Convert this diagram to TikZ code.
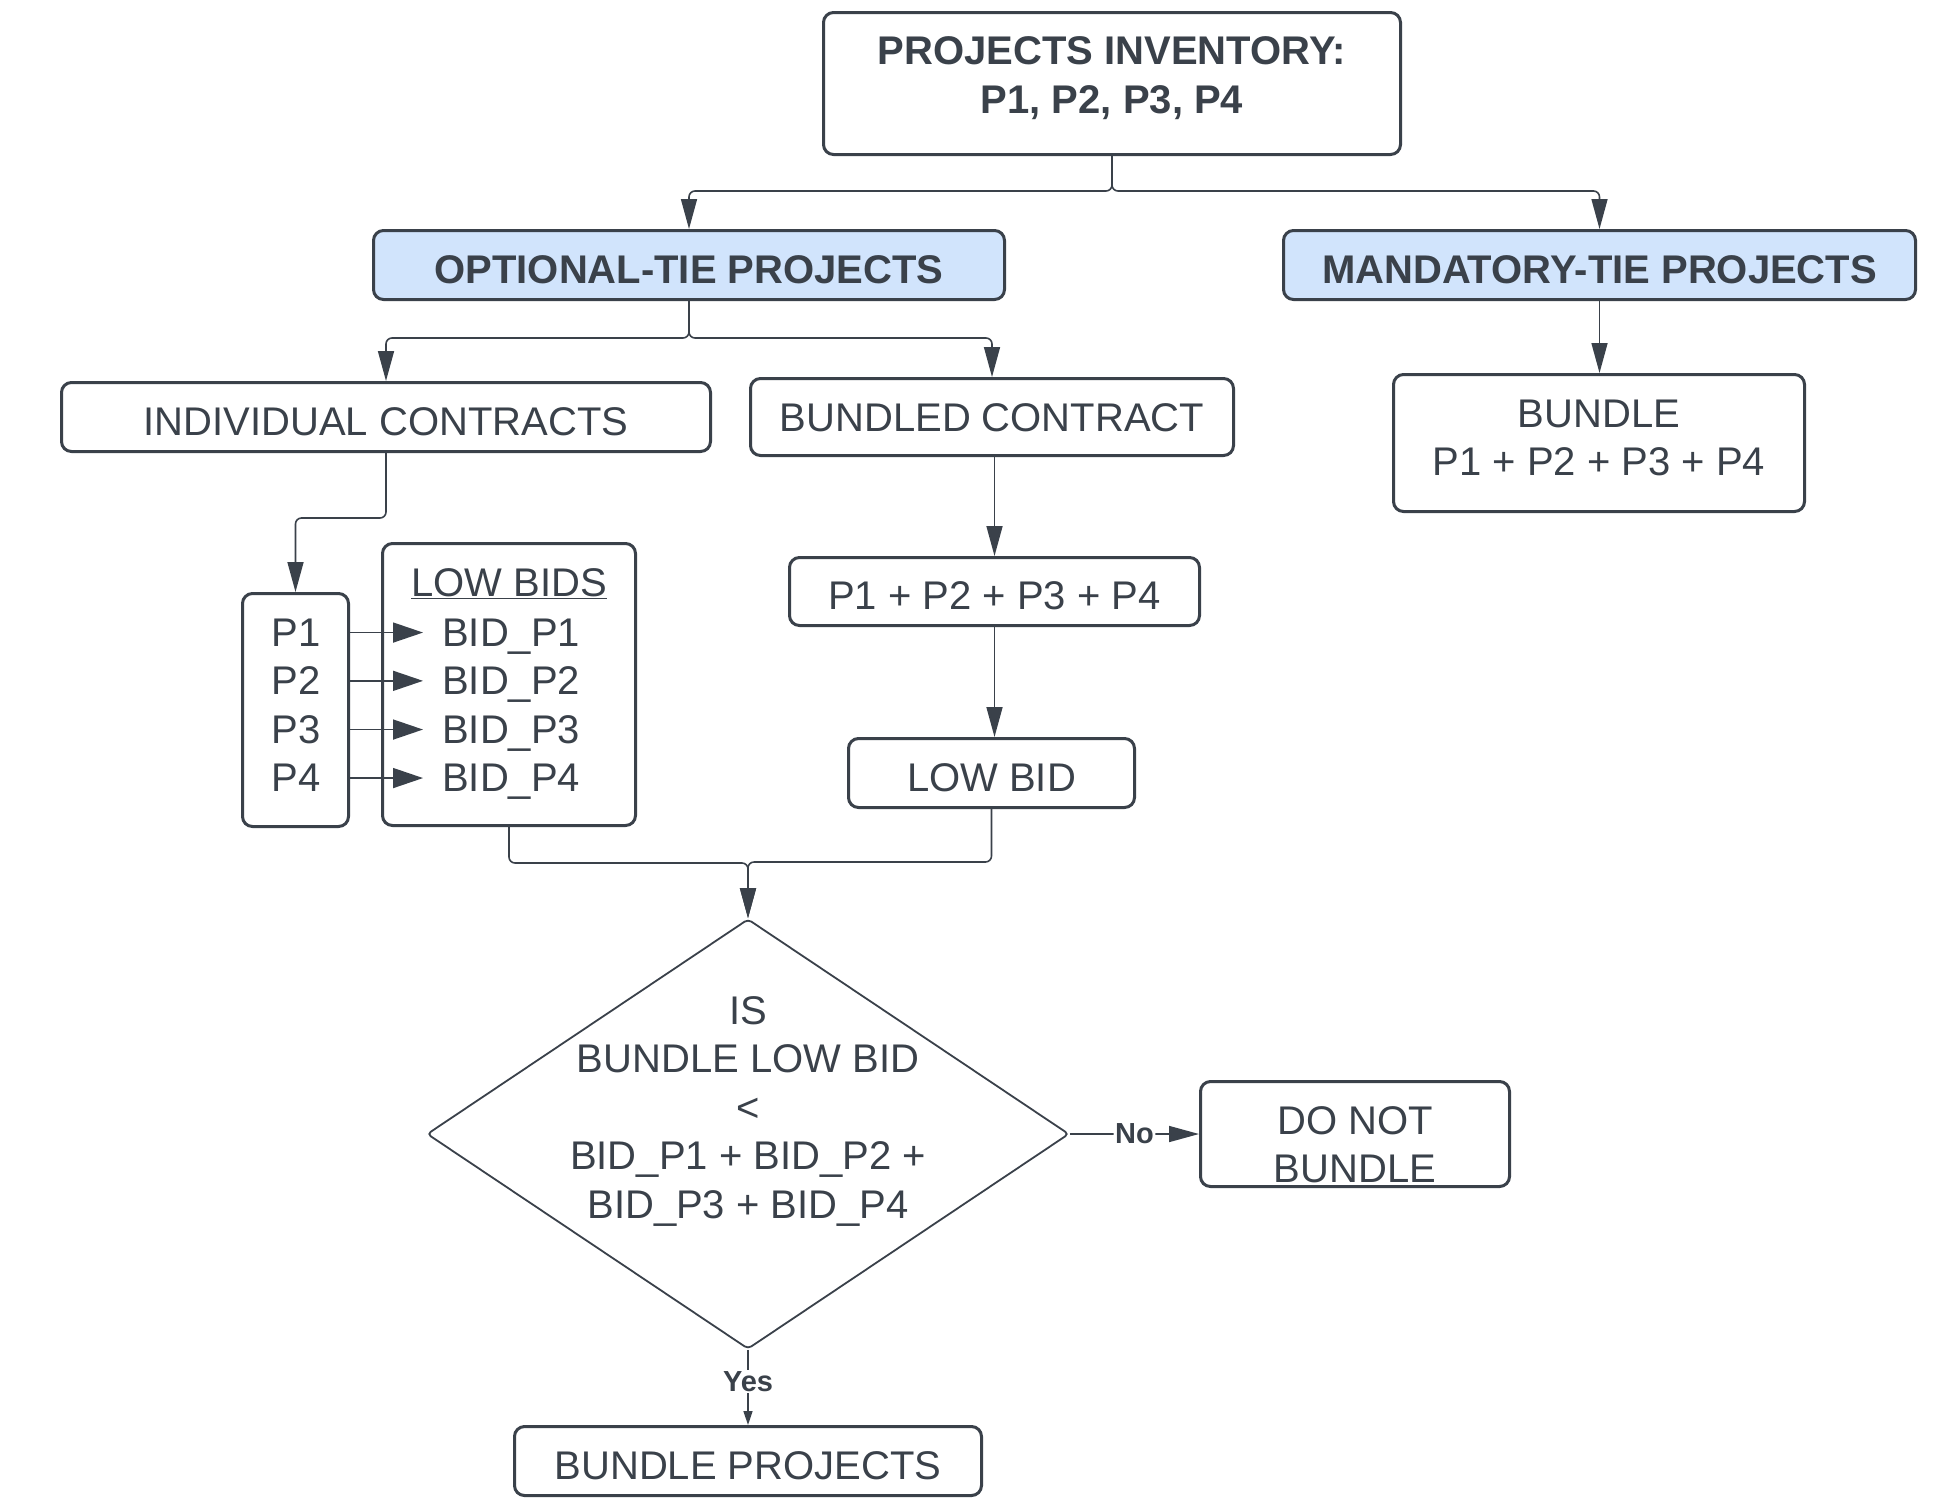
\documentclass[tikz,border=0pt]{standalone}
\usepackage{fontspec}
\setmainfont{Liberation Sans}
\usetikzlibrary{arrows.meta,shapes.geometric}
\definecolor{ink}{RGB}{58,65,74}
\definecolor{lblue}{RGB}{209,228,252}
\begin{document}
\begin{tikzpicture}[x=1pt,y=-1pt,
  base/.style={text=ink, inner sep=0pt, align=center, font=\fontsize{40}{48.5}\selectfont},
  box/.style={base, draw=ink, line width=3pt, rounded corners=10pt},
  one/.style={text height=36pt, text depth=0pt},
  hdr/.style={box, fill=lblue, font=\fontsize{40}{48.5}\selectfont\bfseries},
  txt/.style={base},
  conn/.style={draw=ink, line width=1.6pt, rounded corners=6pt, -{Triangle[length=30pt,width=16pt]}},
  parrow/.style={draw=ink, line width=1.6pt, -{Triangle[length=30pt,width=20pt]}},
  lbl/.style={text=ink, fill=white, inner sep=1.5pt, font=\fontsize{29}{34}\selectfont\bfseries}
]
\fill[white] (0,0) rectangle (1958,1500);
\useasboundingbox (0,0) rectangle (1958,1500);

% boxes
\node[box, minimum width=577pt, minimum height=142pt, font=\fontsize{40}{48.5}\selectfont\bfseries] (top) at (1112,83.5)
  {PROJECTS INVENTORY:\\P1, P2, P3, P4\rule[-17pt]{0pt}{0pt}};
\node[hdr, one, minimum width=631pt, minimum height=69pt] (opt) at (689,265) {OPTIONAL-TIE PROJECTS};
\node[hdr, one, minimum width=632pt, minimum height=69pt] (mand) at (1599.5,265) {MANDATORY-TIE PROJECTS};
\node[box, one, minimum width=649pt, minimum height=69pt] (indiv) at (386,417) {INDIVIDUAL CONTRACTS};
\node[box, text height=28.6pt, text depth=0pt, minimum width=483pt, minimum height=77pt] (bc) at (992,417) {BUNDLED CONTRACT};
\node[box, minimum width=411pt, minimum height=137pt] (bundle) at (1599,443)
  {BUNDLE\\P1 + P2 + P3 + P4\rule[-11pt]{0pt}{0pt}};
\node[box, one, minimum width=410pt, minimum height=68pt] (sum) at (994.5,591.5) {P1 + P2 + P3 + P4};
\node[box, one, minimum width=286pt, minimum height=69pt] (lowbid) at (991.5,773) {LOW BID};

\node[box, minimum width=106pt, minimum height=233pt] (pbox) at (295.5,710) {};
\node[box, minimum width=253pt, minimum height=282pt] (lbbox) at (509,684.5) {};
\node[txt, anchor=base] (lbt) at (509,596) {\underline{LOW BIDS}};
\foreach \i/\y in {1/646.3,2/694.8,3/743.3,4/791.8}{
  \node[txt, anchor=base] (p\i) at (296,\y) {P\i};
  \node[txt, anchor=base west] (bid\i) at (442,\y) {BID\_P\i};
}

\node[diamond, draw=ink, line width=1.8pt, fill=white, rounded corners=4pt, inner sep=0pt,
  minimum width=642pt, minimum height=430pt] (dia) at (748,1134) {};
\node[txt] (diat) at (748,1111) {IS\\BUNDLE LOW BID\\<\\BID\_P1 + BID\_P2 +\\BID\_P3 + BID\_P4};

\node[box, minimum width=309pt, minimum height=105pt] (dnb) at (1355,1134)
  {\rule{0pt}{49pt}DO NOT\\BUNDLE};
\node[box, one, minimum width=467pt, minimum height=69pt] (bp) at (748,1461) {BUNDLE PROJECTS};

% connectors
\draw[conn] (top.south) -- ++(0,35) -| (opt.north);
\draw[conn] (top.south) -- ++(0,35) -| (mand.north);
\draw[conn] (opt.south) -- ++(0,37) -| (indiv.north);
\draw[conn] (opt.south) -- ++(0,37) -| (bc.north);
\draw[conn] (mand.south) -- (mand.south |- bundle.north);
\draw[conn] (indiv.south) -- ++(0,65) -| (pbox.north);
\draw[conn] (sum.north |- bc.south) -- (sum.north);
\draw[conn] (sum.south) -- (sum.south |- lowbid.north);
\draw[conn] (lbbox.south) -- ++(0,36) -| (dia.north);
\draw[conn] (lowbid.south) -- (lowbid.south |- 0,862) -| (dia.north);
\foreach \i in {1,2,3,4}{
  \draw[parrow] (pbox.east |- p\i.center) -- ([xshift=-19pt]bid\i.west |- p\i.center);
}
\draw[conn] (dia.east) -- node[lbl] {No} (dnb.west);
\draw[draw=ink, line width=1.6pt, -{Triangle[length=14pt,width=9pt]}] (dia.south) -- node[lbl, pos=0.42] {Yes} (bp.north);
\end{tikzpicture}
\end{document}
